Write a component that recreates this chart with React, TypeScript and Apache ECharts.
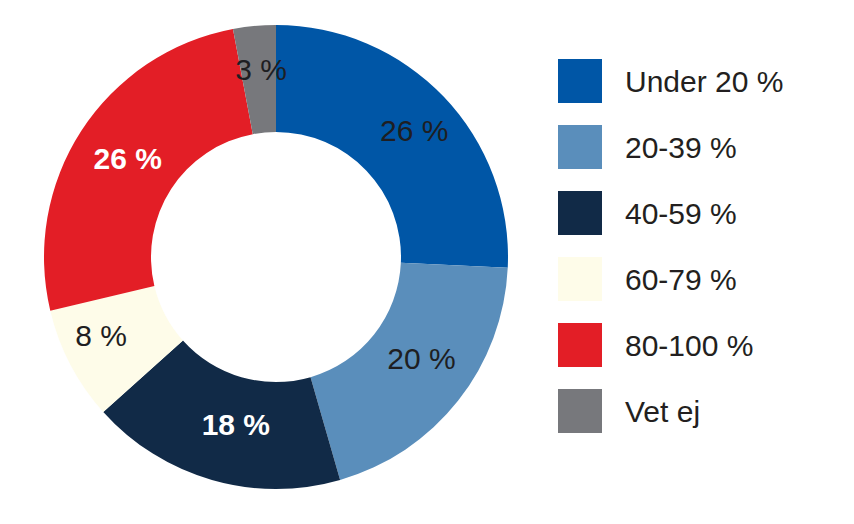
import React, { useEffect, useRef } from "react";
import * as echarts from "echarts";

const categories = ["Under 20 %", "20-39 %", "40-59 %", "60-79 %", "80-100 %", "Vet ej"];
const values = [26, 20, 18, 8, 26, 3];
const sliceLabels = ["26 %", "20 %", "18 %", "8 %", "26 %", "3 %"];
const colors = ["#0056a6", "#5a8ebb", "#112a47", "#fefce9", "#e31e26", "#77787c"];
const labelColors = ["#1e1e22", "#1e1e22", "#ffffff", "#1e1e22", "#ffffff", "#1e1e22"];
const labelWeights = ["normal", "normal", "bold", "normal", "bold", "normal"];
const labelOffsets = [[7, -1], [3, -11], [10, -7], [-14, -6], [4, 0], [2, -7]];

export default function App() {
  const ref = useRef<HTMLDivElement>(null);
  useEffect(() => {
    if (!ref.current) return;
    const chart = echarts.init(ref.current, null, { renderer: "svg" });
    const font = "'Liberation Sans', Arial, Helvetica, sans-serif";
    chart.setOption({
      animation: false,
      backgroundColor: "#ffffff",
      legend: {
        orient: "vertical",
        left: 553,
        top: 54,
        itemWidth: 44,
        itemHeight: 44,
        itemGap: 22,
        icon: "rect",
        selectedMode: false,
        data: categories,
        textStyle: {
          fontFamily: font,
          fontSize: 30,
          color: "#231f20",
          padding: [0, 0, 0, 18],
        },
      },
      series: [
        {
          type: "pie",
          center: [276, 257],
          radius: [125, 232],
          startAngle: 90,
          clockwise: true,
          silent: true,
          label: {
            show: true,
            position: "inside",
            fontFamily: font,
            fontSize: 30,
          },
          labelLine: { show: false },
          itemStyle: { borderWidth: 0 },
          data: categories.map((name, i) => ({
            name,
            value: values[i],
            itemStyle: { color: colors[i] },
            label: {
              formatter: sliceLabels[i],
              color: labelColors[i],
              fontWeight: labelWeights[i],
              offset: labelOffsets[i],
            },
          })),
        },
      ],
    });
    return () => chart.dispose();
  }, []);
  return (
    <div
      ref={ref}
      style={{ position: "absolute", left: 0, top: 0, width: 854, height: 524 }}
    />
  );
}
